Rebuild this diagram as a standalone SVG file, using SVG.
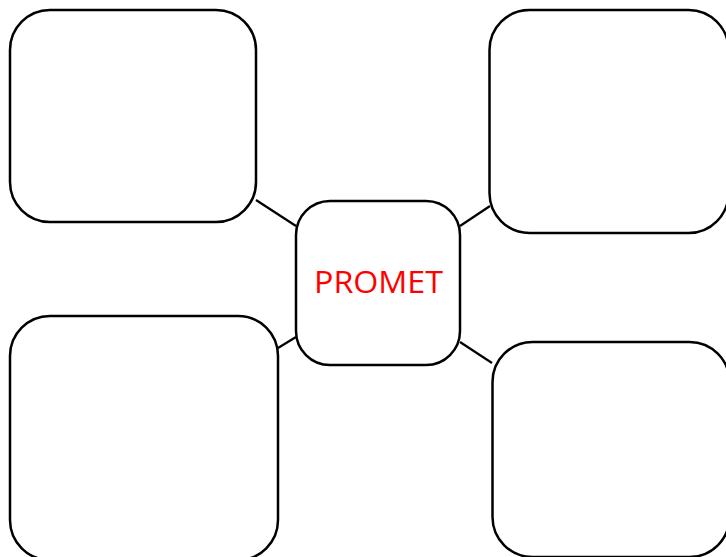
<svg xmlns="http://www.w3.org/2000/svg" width="726" height="557" viewBox="0 0 726 557">
<style>
.box{fill:#fff;stroke:#000;stroke-width:2.5}
.con{stroke:#000;stroke-width:2.2;fill:none}
.lbl{font-family:"Open Sans","Liberation Sans",sans-serif;font-size:31px;fill:#ff0000}
</style>
<rect width="726" height="557" fill="#fff"/>
<g id="connectors">
<line class="con" x1="256" y1="200" x2="296" y2="226"/>
<line class="con" x1="460" y1="226" x2="490" y2="206"/>
<line class="con" x1="278" y1="348" x2="296" y2="337"/>
<line class="con" x1="460" y1="342" x2="492" y2="363"/>
</g>
<g id="node-tl"><rect class="box" x="10" y="10" width="246" height="212" rx="40"/></g>
<g id="node-tr"><rect class="box" x="489.5" y="10" width="239" height="223" rx="40"/></g>
<g id="node-bl"><rect class="box" x="10" y="316" width="268" height="244" rx="40"/></g>
<g id="node-br"><rect class="box" x="492.5" y="342" width="237" height="215" rx="40"/></g>
<g id="node-center"><rect class="box" x="296" y="201" width="164" height="164" rx="34"/>
<text class="lbl" x="378.5" y="293" text-anchor="middle" textLength="129" lengthAdjust="spacingAndGlyphs">PROMET</text></g>
</svg>
